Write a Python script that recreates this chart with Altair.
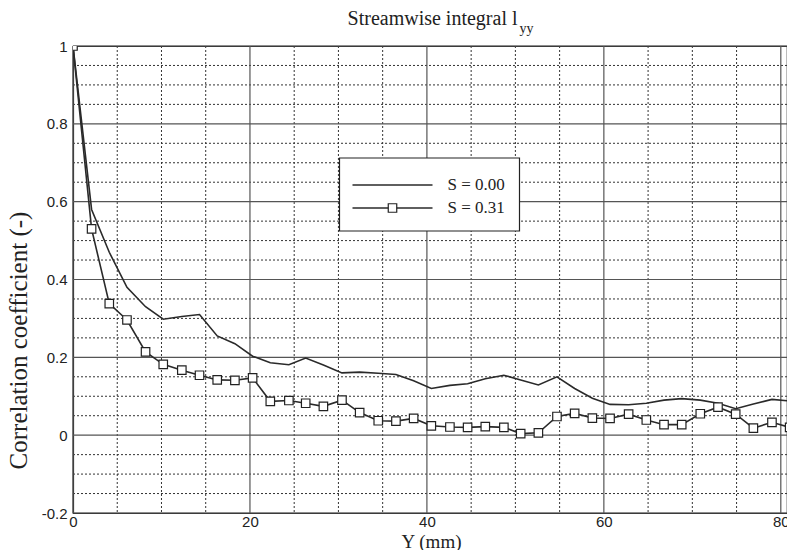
import altair as alt
import pandas as pd

# ---------------- data ----------------
y_mm = [0, 2.1, 4.1, 6.1, 8.2, 10.2, 12.3, 14.3, 16.3, 18.3, 20.3, 22.3, 24.4, 26.3,
        28.3, 30.4, 32.4, 34.5, 36.5, 38.5, 40.5, 42.6, 44.6, 46.6, 48.7, 50.6, 52.6,
        54.7, 56.7, 58.7, 60.7, 62.8, 64.8, 66.8, 68.8, 70.9, 72.9, 74.9, 76.9, 79.0, 81.0]
s000 = [1.0, 0.58, 0.47, 0.38, 0.33, 0.298, 0.305, 0.31, 0.255, 0.235, 0.203, 0.186,
        0.181, 0.198, 0.18, 0.16, 0.162, 0.159, 0.156, 0.14, 0.12, 0.128, 0.132, 0.145,
        0.154, 0.142, 0.129, 0.15, 0.12, 0.095, 0.079, 0.078, 0.082, 0.09, 0.094, 0.09,
        0.082, 0.068, 0.08, 0.092, 0.088]
s031 = [1.0, 0.53, 0.338, 0.296, 0.214, 0.182, 0.167, 0.154, 0.142, 0.141, 0.147, 0.087,
        0.089, 0.082, 0.074, 0.09, 0.058, 0.037, 0.036, 0.043, 0.024, 0.021, 0.02, 0.022,
        0.02, 0.004, 0.006, 0.048, 0.056, 0.044, 0.043, 0.054, 0.039, 0.027, 0.027, 0.055,
        0.072, 0.054, 0.018, 0.033, 0.02]
series_labels = ["S = 0.00", "S = 0.31"]
title_main = "Streamwise integral l"
title_sub = "yy"
x_title = "Y (mm)"
y_title = "Correlation coefficient (-)"
x_major_ticks = [0, 20, 40, 60, 80]
x_minor_ticks = [5, 10, 15, 25, 30, 35, 45, 50, 55, 65, 70, 75]
y_major_ticks = [-0.2, 0, 0.2, 0.4, 0.6, 0.8, 1.0]
y_minor_ticks = [-0.15, -0.1, -0.05, 0.05, 0.1, 0.15, 0.25, 0.3, 0.35, 0.45, 0.5, 0.55,
                 0.65, 0.7, 0.75, 0.85, 0.9, 0.95]

df = pd.DataFrame({
    "y_mm": y_mm * 2,
    "r": s000 + s031,
    "series": [series_labels[0]] * len(y_mm) + [series_labels[1]] * len(y_mm),
})
df_sq = df[df["series"] == series_labels[1]]

W, H = 714, 467
INK = "#222222"
SERIF = "Liberation Serif"
SANS = "Liberation Sans"

x_axis = alt.Axis(
    values=x_major_ticks, ticks=False, grid=False,
    format="d",
    labelFont=SANS, labelFontSize=15, labelColor=INK, labelPadding=1,
    labelFlush=False, labelOverlap=False,
    domainColor=INK, domainWidth=1.2,
    title=x_title, titleFont=SERIF, titleFontSize=19, titleFontWeight="normal",
    titleColor=INK, titleX=358, titleY=34, titleBaseline="alphabetic", titleAlign="center",
)
y_axis = alt.Axis(
    values=y_major_ticks, ticks=False, grid=False,
    labelExpr="replace(format(datum.value, '.2~f'), '\u2212', '-')",
    labelFont=SANS, labelFontSize=15, labelColor=INK, labelPadding=6,
    labelOverlap=False, labelFlush=False,
    domainColor=INK, domainWidth=1.2,
    title=y_title, titleFont=SERIF, titleFontSize=25, titleFontWeight="normal",
    titleColor=INK, titleX=-55, titleY=294, titleAngle=270, titleBaseline="middle",
    titleAlign="center",
)

xs = alt.Scale(domain=[0, 80.7], nice=False, zero=False)
ys = alt.Scale(domain=[-0.2, 1.0], nice=False, zero=False)

X = lambda f: alt.X(f, scale=xs, axis=x_axis, title=x_title)
Y = lambda f: alt.Y(f, scale=ys, axis=y_axis, title=y_title)

# grid lines drawn from the tick arrays through the scales
gx_minor = alt.Chart(pd.DataFrame({"v": x_minor_ticks})).mark_rule(
    color="#333333", strokeWidth=1, strokeDash=[2, 2]).encode(x=X("v:Q"))
gy_minor = alt.Chart(pd.DataFrame({"v": y_minor_ticks})).mark_rule(
    color="#333333", strokeWidth=1, strokeDash=[2, 2]).encode(y=Y("v:Q"))
gx_major = alt.Chart(pd.DataFrame({"v": x_major_ticks})).mark_rule(
    color="#555555", strokeWidth=1.2).encode(x=X("v:Q"))
gy_major = alt.Chart(pd.DataFrame({"v": y_major_ticks})).mark_rule(
    color="#555555", strokeWidth=1.2).encode(y=Y("v:Q"))

lines = alt.Chart(df).mark_line(color="#2a2a2a", strokeWidth=1.6, clip=True).encode(
    x=X("y_mm:Q"), y=Y("r:Q"), detail="series:N",
)
squares = alt.Chart(df_sq).mark_point(
    shape="square", filled=True, fill="white", stroke=INK, strokeWidth=1.2,
    size=72, opacity=1, clip=True,
).encode(x=X("y_mm:Q"), y=Y("r:Q"))

one = pd.DataFrame({"k": [0]})
base = alt.Chart(one)

# legend (manual, positioned in plot pixels)
legend_box = base.mark_rect(fill="white", stroke=INK, strokeWidth=1.2).encode(
    x=alt.value(266.5), x2=alt.value(446.5), y=alt.value(112), y2=alt.value(185))
legend_layers = [legend_box]
for i, lab in enumerate(series_labels):
    yy = 139 + 23 * i
    legend_layers.append(base.mark_rule(color="#2a2a2a", strokeWidth=1.6).encode(
        x=alt.value(279.5), x2=alt.value(359.5), y=alt.value(yy)))
    if i == 1:
        legend_layers.append(base.mark_point(
            shape="square", filled=True, fill="white", stroke=INK, strokeWidth=1.2,
            size=72, opacity=1).encode(x=alt.value(319.5), y=alt.value(yy)))
    legend_layers.append(base.mark_text(
        font=SERIF, fontSize=17, color=INK, align="left", baseline="middle").encode(
        x=alt.value(374.5), y=alt.value(yy), text=alt.value(lab)))

title1 = base.mark_text(font=SERIF, fontSize=20, color=INK, align="right",
                        baseline="alphabetic").encode(
    x=alt.value(444.5), y=alt.value(-21), text=alt.value(title_main))
title2 = base.mark_text(font=SERIF, fontSize=14, color=INK, align="left",
                        baseline="alphabetic").encode(
    x=alt.value(446.5), y=alt.value(-13), text=alt.value(title_sub))

chart = alt.layer(gx_minor, gy_minor, gx_major, gy_major, lines, squares,
                  *legend_layers, title1, title2).properties(
    width=W, height=H,
    autosize=alt.AutoSizeParams(type="none"),
    padding={"left": 73, "top": 46, "right": 0, "bottom": 37},
    background="white",
).configure_view(stroke=INK, strokeWidth=1.2)

chart.save("out.html", embed_options={"renderer": "svg", "actions": False})
